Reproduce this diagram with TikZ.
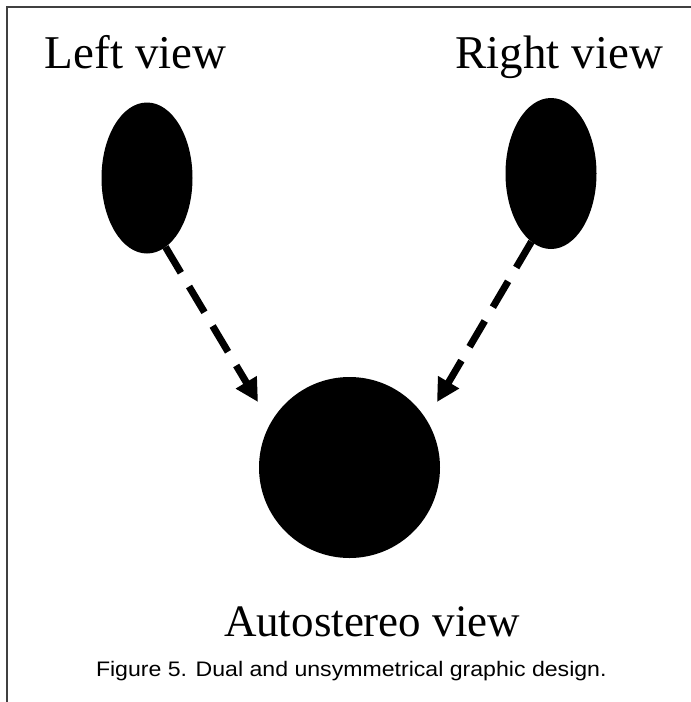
\documentclass[tikz,border=0pt]{standalone}
\usepackage{fontspec}
\setmainfont{Liberation Serif}
\newfontfamily\capfont[FakeStretch=1.1]{Liberation Sans}
\usetikzlibrary{arrows.meta,shapes.geometric}

\begin{document}
\begin{tikzpicture}[x=1pt, y=-1pt, every node/.style={inner sep=0pt, outer sep=0pt}, blob/.style={ellipse, fill=black, minimum width=91pt, minimum height=151pt}, label/.style={font=\fontsize{47}{50}\selectfont, anchor=base west}, dasharrow/.style={line width=7pt, dash pattern=on 30pt off 16pt, -{Triangle[length=23pt, width=23pt]}}]
      \useasboundingbox (0,0) rectangle (691,702);
      \draw[line width=2pt, black!75] (7,702) -- (7,7) -- (691,7);
      \node[blob] (lview) at (147,178) {};
      \node[blob] (rview) at (551,173.5) {};
      \node[circle, fill=black, minimum size=181pt] (auto) at (349.5,467.5) {};
      \coordinate (ltip) at (258,402);
      \coordinate (rtip) at (437,402);
      \node[label] (ltext) at (45,68) {Left view};
      \node[label, anchor=base east] (rtext) at (663,68) {Right view};
      \node[label, font=\fontsize{45}{50}\selectfont] (atext) at (224,636) {Autostereo view};
      \node[anchor=base west, font=\capfont\fontsize{21}{24}\selectfont] (caption) at (96,676) {Figure 5. Dual and unsymmetrical graphic design.};
      \draw[dasharrow] (lview.-75) -- (ltip);
      \draw[dasharrow] (rview.-106) -- (rtip);
    \end{tikzpicture}
\end{document}
